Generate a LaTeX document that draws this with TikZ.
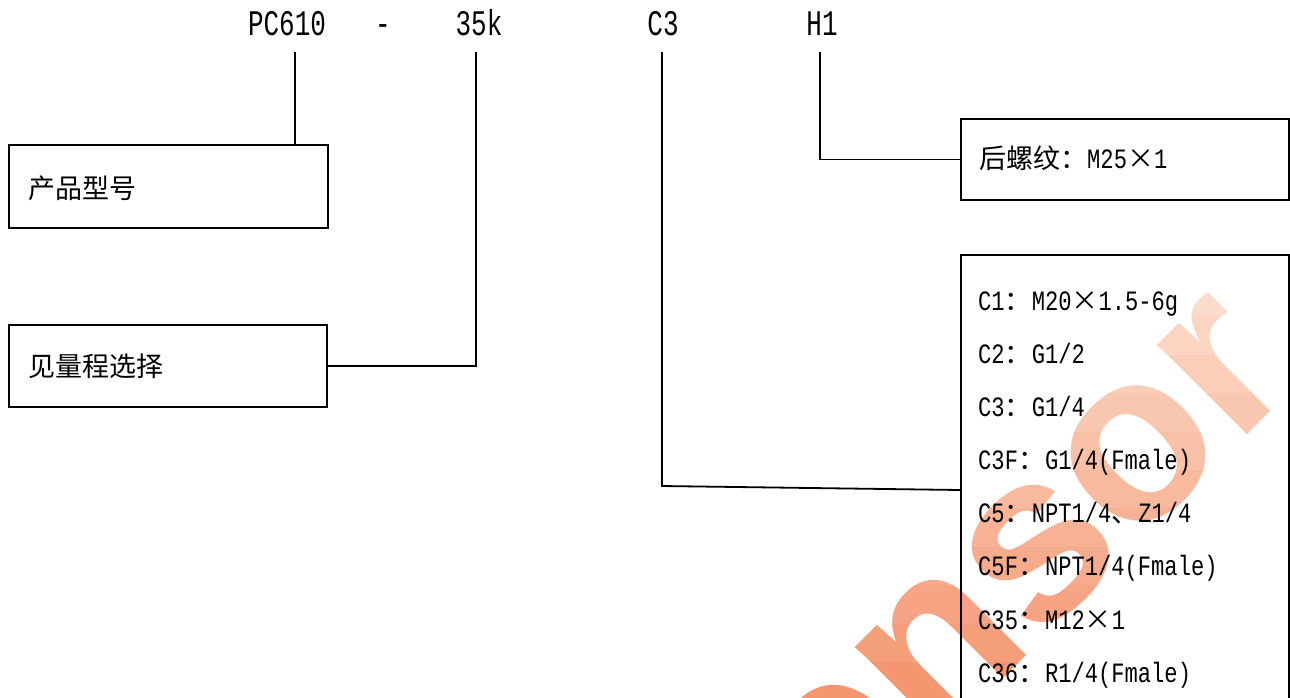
\documentclass[tikz,border=0pt]{standalone}
\usepackage{fontspec}
\setmainfont{Liberation Mono}[FakeStretch=0.79]
\newfontfamily\topf{Liberation Mono}[FakeStretch=0.72]
\newfontfamily\cjkf{Noto Sans CJK SC}
\newfontfamily\wmf{Liberation Sans}
\definecolor{wmtop}{RGB}{252,226,212}
\definecolor{wmbot}{RGB}{244,150,112}
\newcommand\cj[1]{{\fontsize{27}{30}\selectfont\cjkf #1}}
\newcommand\mx{\makebox[27pt]{\cj{×}}}
\begin{document}
\begin{tikzpicture}[x=1pt,y=-1pt,
  box/.style={draw, line width=1.8pt, inner sep=0pt, anchor=north west},
  conn/.style={line width=1.8pt},
  toplab/.style={font=\fontsize{36}{36}\selectfont\topf, anchor=base, inner sep=0pt},
  txt/.style={font=\fontsize{28}{30}\selectfont, anchor=base west, inner sep=0pt},
  wm/.style={font=\fontsize{240}{240}\selectfont\wmf\bfseries, rotate=45, anchor=base west, inner sep=0pt}]
\useasboundingbox (0,0) rectangle (1290,697);
\clip (0,0) rectangle (1290,697);
% watermark
\coordinate (wmP) at (745,937);
\foreach \i in {0,...,11}{
  \pgfmathtruncatemacro\pct{\i*100/11}
  \begin{scope}
    \clip (0,{240+\i*38.4}) rectangle (1290,{279+\i*38.4});
    \node[wm, text=wmbot!\pct!wmtop] (wm\i) at (wmP) {sensor};
  \end{scope}
}
% top labels
\node[toplab] (pc) at (287,35) {PC610};
\node[toplab] (dash) at (383,35) {-};
\node[toplab] (k) at (479,35) {35k};
\node[toplab] (c3) at (663,35) {C3};
\node[toplab] (h1) at (822,35) {H1};
% boxes
\node[box, minimum width=319pt, minimum height=83pt] (b1) at (8,144) {};
\node[box, minimum width=318pt, minimum height=82pt] (b2) at (8,324) {};
\node[box, minimum width=328pt, minimum height=81pt] (b3) at (960,118) {};
\node[box, minimum width=328pt, minimum height=506pt] (b4) at (960,254) {};
% texts
\node[txt] (b1t) at (28,198) {\cj{产品型号}};
\node[txt] (b2t) at (28,376) {\cj{见量程选择}};
\node[txt] (b3t) at (979,168) {\cj{后螺纹：}M25\mx 1};
\node[txt] (l1) at (978,310) {C1\cj{：}M20\mx 1.5-6g};
\node[txt] (l2) at (978,363) {C2\cj{：}G1/2};
\node[txt] (l3) at (978,416) {C3\cj{：}G1/4};
\node[txt] (l4) at (978,469) {C3F\cj{：}G1/4(Fmale)};
\node[txt] (l5) at (978,522) {C5\cj{：}NPT1/4\cj{、}Z1/4};
\node[txt] (l6) at (978,575) {C5F\cj{：}NPT1/4(Fmale)};
\node[txt] (l7) at (978,629) {C35\cj{：}M12\mx 1};
\node[txt] (l8) at (978,682) {C36\cj{：}R1/4(Fmale)};
% connectors
\coordinate (pcT) at (295,52);
\draw[conn] (pcT) -- (pcT |- b1.north);
\coordinate (kT) at (476,52);
\draw[conn] (kT) |- (b2.east);
\coordinate (c3T) at (662,52);
\coordinate (c3K) at (662,486);
\path (b4.north west) ++(0,236) coordinate (c3E);
\draw[conn] (c3T) -- (c3K) -- (c3E);
\coordinate (h1T) at (820,52);
\draw[conn] (h1T) |- (b3.west);
\end{tikzpicture}
\end{document}
